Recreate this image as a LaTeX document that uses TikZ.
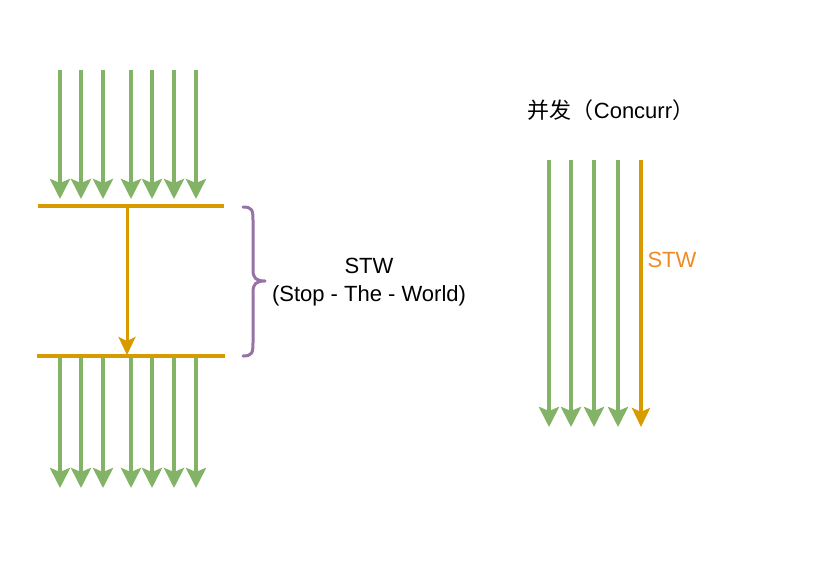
\documentclass[tikz,border=0pt]{standalone}
\usepackage{fontspec}
\setmainfont{Liberation Sans}
\newfontfamily\cjk{Noto Sans CJK SC}
\usetikzlibrary{arrows.meta}
\definecolor{grn}{HTML}{82B366}
\definecolor{org}{HTML}{D79B00}
\definecolor{pur}{HTML}{9673A6}
\definecolor{stwtext}{HTML}{F08A24}
\begin{document}
\begin{tikzpicture}[x=1pt,y=-1pt,
  garrow/.style={draw=grn, line width=4.3pt, -{Stealth[length=20pt,width=20pt,inset=4pt,fill=grn]}},
  oarrow/.style={draw=org, line width=3pt, -{Stealth[length=18pt,width=17pt,inset=4pt,fill=org]}},
  oarrowb/.style={draw=org, line width=4pt, -{Stealth[length=19pt,width=18pt,inset=4pt,fill=org]}},
  oline/.style={draw=org, line width=4pt},
  brace/.style={draw=pur, line width=3pt, line cap=round, line join=round},
  lbl/.style={font=\fontsize{22}{28}\selectfont, text=black, align=center, inner sep=0pt}
]
\useasboundingbox (0,0) rectangle (832,566);

% top left arrows
\foreach \x [count=\i] in {60,81,103,131,152,174,196} {
  \coordinate (ta\i) at (\x,70);
  \coordinate (tb\i) at (\x,199);
  \draw[garrow] (ta\i) -- (tb\i);
}
% orange bars
\coordinate (l1a) at (38,206);
\coordinate (l1b) at (224,206);
\coordinate (l2a) at (37,356);
\coordinate (l2b) at (225,356);
\draw[oline] (l1a) -- (l1b);
\draw[oline] (l2a) -- (l2b);
\coordinate (v1) at (127,206);
\coordinate (v2) at (127,355);
\draw[oarrow] (v1) -- (v2);

% bottom left arrows
\foreach \x [count=\i] in {60,81,103,131,152,174,196} {
  \coordinate (ba\i) at (\x,358);
  \coordinate (bb\i) at (\x,488);
  \draw[garrow] (ba\i) -- (bb\i);
}

% brace
\draw[brace] (243,207) .. controls (252,207) and (253,210) .. (253,220)
  -- (253,270) .. controls (253,278) and (256,281) .. (265,281)
  .. controls (256,281) and (253,284) .. (253,292)
  -- (253,343) .. controls (253,353) and (252,356) .. (243,356);

\node[lbl] (stw) at (369,282) {STW\\(Stop - The - World)};

% right side
\node[lbl] (conc) at (611,110) {{\cjk 并发（}Concurr{\cjk ）}};
\foreach \x [count=\i] in {549,571,594,618} {
  \coordinate (ra\i) at (\x,160);
  \coordinate (rb\i) at (\x,427);
  \draw[garrow] (ra\i) -- (rb\i);
}
\coordinate (ro1) at (641,160);
\coordinate (ro2) at (641,427);
\draw[oarrowb] (ro1) -- (ro2);
\node[lbl, text=stwtext] (stw2) at (672,260) {STW};
\end{tikzpicture}
\end{document}
